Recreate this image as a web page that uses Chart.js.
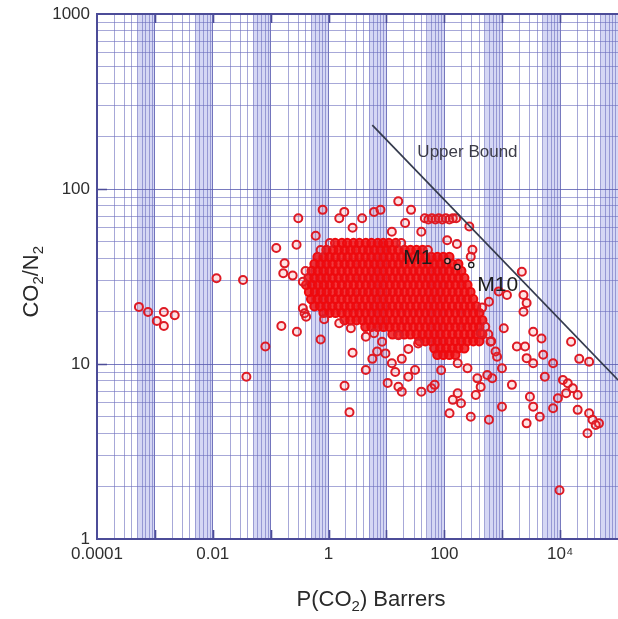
<!DOCTYPE html>
<html>
<head>
<meta charset="utf-8">
<script src="https://cdn.jsdelivr.net/npm/chart.js@4/dist/chart.umd.min.js"></script>
<style>
  html, body { margin: 0; padding: 0; background: #fff; }
  canvas { display: block; }
</style>
</head>
<body>
<canvas id="c" width="618" height="619"></canvas>
<script>
// ---------------- data ----------------
// labelled ticks
const xLabelTicks = [1e-4, 1e-2, 1, 100, 1e4];
const xLabelText  = ['0.0001', '0.01', '1', '100', '10\u2074'];
const yLabelTicks = [1, 10, 100, 1000];
const yLabelText  = ['1', '10', '100', '1000'];

// upper bound line (end points)
const upperBoundPerm = [5.7, 1e5];
const upperBoundSel  = [232, 8.1];

// M1 ... M10 membranes
const mPerm = [113, 168, 292];
const mSel  = [38.8, 35.8, 36.8];

// scattered literature membranes [P(CO2), CO2/N2]
const scatteredPts = [
  [0.00053, 21.2], [0.00076, 19.8], [0.00108, 17.6], [0.00143, 19.8], [0.00143, 16.5], [0.0022, 19.0],
  [0.0116, 30.9], [0.0333, 30.2], [0.0381, 8.46], [0.081, 12.6], [0.153, 16.5], [0.284, 15.3],
  [0.125, 46], [0.174, 37.6], [0.165, 33], [0.24, 32], [0.36, 29.5], [0.36, 20.8], [0.385, 19.5],
  [0.41, 18.6], [0.73, 13.8], [0.84, 18],
  [0.3, 68], [0.6, 54], [0.28, 48], [0.79, 76], [1.53, 68], [1.87, 74], [2.6, 60], [3.8, 68],
  [6.1, 74], [7.9, 76], [12.4, 57], [16, 85], [21, 64], [26.6, 76], [40, 57],
  [46, 68], [53, 67], [61, 68], [70, 67], [80, 68], [92, 67], [106, 68], [122, 67], [140, 68], [160, 68],
  [112, 51], [165, 48.5], [270, 61], [306, 45], [286, 41],
  [2180, 33.7], [2330, 24.8], [2640, 22.3], [2330, 19.9], [1207, 24.8], [870, 26], [590, 22.7], [450, 21],
  [1.53, 17.1], [2.43, 16], [4.4, 14.3], [6.1, 15], [8.4, 13.4], [6.9, 11.8], [5.7, 10.7], [4.4, 9.24],
  [9.6, 11.5], [12.4, 10.1], [10.5, 7.8], [16.1, 7.42], [18.4, 6.95], [40, 6.95], [23.9, 8.46],
  [31.2, 9.24], [18.4, 10.7], [23.9, 12.2], [35.3, 13.1], [16.1, 14.6], [60, 7.26], [14.2, 9.0],
  [1.89, 7.5], [2.3, 5.3], [2.6, 11.6],
  [3430, 15.3], [4770, 14], [15470, 13.4], [1790, 12.6], [2480, 12.6], [2640, 10.8], [3430, 10.1],
  [5100, 11.3], [7560, 10.1], [21400, 10.7], [31700, 10.3], [5440, 8.46], [11190, 8.1], [13570, 7.76],
  [16560, 7.26], [12690, 6.8], [20100, 6.65], [9170, 6.37], [3010, 6.5], [7560, 5.58], [4460, 5.0],
  [3430, 5.7], [2640, 4.58], [20100, 5.47], [31700, 5.23], [36300, 4.8], [46900, 4.58], [1470, 7.6],
  [990, 5.7], [590, 4.8], [286, 5.0], [123, 5.23], [424, 7.4], [672, 8.3], [990, 9.45], [372, 8.28],
  [251, 9.45], [170, 10.1], [88, 9.2], [68, 7.6], [170, 6.8], [140, 6.24], [194, 5.96], [349, 6.65],
  [551, 8.65], [815, 11], [1064, 16], [628, 13.4], [424, 15], [767, 11.8],
  [29700, 4.02], [41150, 4.48], [9770, 1.9],
  [0.73, 44.8], [1.05, 49.1], [18, 49.1], [52, 44.8], [0.40, 34.0], [574, 14.8], [509, 16.3], [646, 13.5]
];

// the crowded centre of the cloud, one selectivity per row
const coreSel = [49.1, 44.8, 40.9, 37.3, 34.0, 31.0, 28.3, 25.8, 23.5, 21.4, 19.6, 17.8, 16.3, 14.8, 13.5, 12.3, 11.3];
const corePermRows = [
  [1.3, 1.7, 2.1, 2.7, 3.4, 4.4, 5.5, 7.1, 8.8, 11, 14.5],
  [0.92, 1.2, 1.5, 1.9, 2.4, 3.0, 3.9, 4.9, 6.2, 7.9, 10, 12.5, 16, 20.5, 26, 33, 42],
  [0.646, 0.82, 1.04, 1.32, 1.68, 2.13, 2.7, 3.42, 4.34, 5.51, 7.0, 8.88, 11.3, 14.3, 18.1, 23.0, 29.2, 37.1, 47.0, 59.7, 75.7, 96.1, 122],
  [0.573, 0.728, 0.923, 1.17, 1.49, 1.89, 2.39, 3.04, 3.86, 4.89, 6.21, 7.88, 10.0, 12.7, 16.1, 20.4, 25.9, 32.9, 41.8, 53.0, 67.2, 85.3, 108, 137, 174],
  [0.51, 0.65, 0.82, 1.04, 1.32, 1.68, 2.13, 2.7, 3.42, 4.34, 5.51, 7.0, 8.88, 11.3, 14.3, 18.1, 23.0, 29.2, 37.1, 47.0, 59.7, 75.7, 96.1, 122, 155, 196],
  [0.45, 0.57, 0.73, 0.92, 1.17, 1.49, 1.89, 2.39, 3.04, 3.86, 4.89, 6.21, 7.88, 10.0, 12.7, 16.1, 20.4, 25.9, 32.9, 41.8, 53.0, 67.2, 85.3, 108, 137, 174, 221],
  [0.41, 0.52, 0.66, 0.83, 1.05, 1.33, 1.7, 2.15, 2.72, 3.45, 4.4, 5.55, 7.05, 8.9, 11.4, 14.4, 18.2, 23.2, 29.4, 37.4, 47.5, 60, 76, 97, 123, 156, 198, 250],
  [0.46, 0.58, 0.74, 0.93, 1.18, 1.5, 1.9, 2.4, 3.05, 3.9, 4.9, 6.25, 7.9, 10.1, 12.8, 16.2, 20.5, 26, 33, 42, 53.5, 67.5, 86, 109, 138, 175, 222, 282],
  [0.5, 0.64, 0.81, 1.03, 1.31, 1.67, 2.12, 2.68, 3.4, 4.3, 5.48, 6.95, 8.85, 11.2, 14.2, 18, 22.9, 29, 37, 46.8, 59.4, 75.3, 95.6, 121, 154, 195, 248, 314],
  [0.57, 0.72, 0.92, 1.16, 1.48, 1.88, 2.38, 3.02, 3.84, 4.87, 6.18, 7.85, 9.95, 12.6, 16, 20.3, 25.8, 32.8, 41.6, 52.8, 67, 85, 107, 136, 173, 220, 280, 354],
  [0.82, 1.04, 1.32, 1.68, 2.13, 2.7, 3.42, 4.34, 5.51, 7.0, 8.88, 11.3, 14.3, 18.1, 23.0, 29.2, 37.1, 47.0, 59.7, 75.7, 96.1, 122, 155, 196, 249, 316, 401],
  [1.89, 2.39, 3.04, 3.86, 4.89, 6.21, 7.88, 10.0, 12.7, 16.1, 20.4, 25.9, 32.9, 41.8, 53.0, 67.2, 85.3, 108, 137, 174, 221, 281, 356, 452],
  [4.34, 5.51, 7.0, 8.88, 11.3, 14.3, 18.1, 23.0, 29.2, 37.1, 47.0, 59.7, 75.7, 96.1, 122, 155, 196, 249, 316, 401],
  [12.7, 16.1, 20.4, 25.9, 32.9, 41.8, 53.0, 67.2, 85.3, 108, 137, 174, 221, 281, 356, 452],
  [37.1, 47.0, 59.7, 75.7, 96.1, 122, 155, 196, 249, 316, 401],
  [67.2, 85.3, 108, 137, 174, 221],
  [75.7, 96.1, 122, 155]
];

// ---------------- build datasets ----------------
const sparse = scatteredPts.map(([x, y]) => ({ x, y }));
const core = [];
corePermRows.forEach((row, i) => row.forEach(x => core.push({ x, y: coreSel[i] })));

const upperBound = upperBoundPerm.map((x, i) => ({ x, y: upperBoundSel[i] }));
const mPoints = mPerm.map((x, i) => ({ x, y: mSel[i] }));

// log grid: a line at every 1..9 x 10^k
function logGridTicks(min, max) {
  const ticks = [];
  const e0 = Math.round(Math.log10(min)), e1 = Math.round(Math.log10(max));
  for (let e = e0; e < e1; e++) {
    for (let m = 1; m < 10; m++) ticks.push({ value: m * Math.pow(10, e), major: m === 1 });
  }
  ticks.push({ value: max, major: true });
  return ticks;
}
function labelFor(value, ticks, texts) {
  for (let i = 0; i < ticks.length; i++) {
    if (Math.abs(Math.log10(value) - Math.log10(ticks[i])) < 1e-6) return texts[i];
  }
  return '';
}

const GRID_MINOR = 'rgba(108,110,190,0.6)';
const GRID_MAJOR = 'rgba(88,90,175,0.8)';
const FRAME = '#4c4c98';
const TICK_FONT = { family: "'Liberation Sans', Arial, sans-serif", size: 17 };

// ---------------- decorations ----------------
const decor = {
  id: 'decor',
  beforeDraw(chart) {
    const { ctx, chartArea: a, scales: { x } } = chart;
    ctx.save();
    ctx.fillStyle = 'rgba(172,176,234,0.5)';
    for (let e = -4; e < 5; e++) {
      const p0 = x.getPixelForValue(5 * Math.pow(10, e));
      const p1 = x.getPixelForValue(Math.pow(10, e + 1));
      ctx.fillRect(p0, a.top, p1 - p0, a.bottom - a.top);
    }
    ctx.restore();
  },
  afterDraw(chart) {
    const { ctx, chartArea: a, scales: { x, y } } = chart;
    ctx.save();
    // frame top edge
    ctx.strokeStyle = FRAME;
    ctx.lineWidth = 2;
    ctx.beginPath();
    ctx.moveTo(a.left, a.top); ctx.lineTo(a.right, a.top);
    ctx.stroke();
    // inward major tick marks
    ctx.lineWidth = 1.6;
    ctx.beginPath();
    for (let e = -3; e < 5; e++) {
      const px = Math.round(x.getPixelForValue(Math.pow(10, e))) + 0.5;
      ctx.moveTo(px, a.bottom); ctx.lineTo(px, a.bottom - 9);
      ctx.moveTo(px, a.top); ctx.lineTo(px, a.top + 9);
    }
    for (let e = 1; e < 3; e++) {
      const py = Math.round(y.getPixelForValue(Math.pow(10, e))) + 0.5;
      ctx.moveTo(a.left, py); ctx.lineTo(a.left + 10, py);
    }
    ctx.stroke();

    // axis titles with subscripts
    const big = "22px 'Liberation Sans', Arial, sans-serif";
    const sub = "15px 'Liberation Sans', Arial, sans-serif";
    function richWidth(parts) {
      let w = 0;
      parts.forEach(([t, s]) => { ctx.font = s ? sub : big; w += ctx.measureText(t).width; });
      return w;
    }
    function richDraw(parts, x0, base) {
      let cx = x0;
      parts.forEach(([t, s]) => {
        ctx.font = s ? sub : big;
        ctx.fillText(t, cx, base + (s ? 5 : 0));
        cx += ctx.measureText(t).width;
      });
    }
    ctx.fillStyle = '#2a2a2a';
    ctx.textBaseline = 'alphabetic';
    ctx.textAlign = 'left';
    const xt = [['P(CO', 0], ['2', 1], [') Barrers', 0]];
    const xc = a.left + (a.right - a.left) * 0.526;
    richDraw(xt, xc - richWidth(xt) / 2, 606);

    const yt = [['CO', 0], ['2', 1], ['/N', 0], ['2', 1]];
    ctx.save();
    ctx.translate(38, a.top + (a.bottom - a.top) * 0.51);
    ctx.rotate(-Math.PI / 2);
    richDraw(yt, -richWidth(yt) / 2, 0);
    ctx.restore();

    // annotations placed in data coordinates
    const notes = [
      { text: 'Upper Bound', px: 34.2, sel: 163, font: "17px 'Liberation Sans', Arial, sans-serif", color: '#3c3c48' },
      { text: 'M1',  px: 19.6, sel: 40.3, font: "21px 'Liberation Sans', Arial, sans-serif", color: '#1c1c1c' },
      { text: 'M10', px: 371,  sel: 28.3, font: "21px 'Liberation Sans', Arial, sans-serif", color: '#1c1c1c' }
    ];
    ctx.textBaseline = 'middle';
    notes.forEach(n => {
      ctx.font = n.font;
      ctx.fillStyle = n.color;
      ctx.fillText(n.text, x.getPixelForValue(n.px), y.getPixelForValue(n.sel));
    });
    ctx.restore();
  }
};

// ---------------- chart ----------------
new Chart(document.getElementById('c'), {
  type: 'scatter',
  data: {
    datasets: [
      {
        label: 'M1-M10',
        data: mPoints,
        pointRadius: 2.6,
        pointBorderWidth: 1.3,
        pointBorderColor: '#141414',
        pointBackgroundColor: 'rgba(255,255,255,0.6)'
      },
      {
        label: 'Upper Bound',
        data: upperBound,
        showLine: true,
        borderColor: '#343a4c',
        borderWidth: 1.7,
        pointRadius: 0
      },
      {
        label: 'Membranes (scattered)',
        data: sparse,
        pointRadius: 4,
        pointBorderWidth: 2,
        pointBorderColor: 'rgb(222,26,36)',
        pointBackgroundColor: 'rgba(255,90,90,0.16)'
      },
      {
        label: 'Membranes (crowded)',
        data: core,
        pointRadius: 4.2,
        pointBorderWidth: 2,
        pointBorderColor: 'rgb(238,10,14)',
        pointBackgroundColor: 'rgba(238,14,18,0.82)'
      }
    ]
  },
  options: {
    responsive: false,
    animation: false,
    devicePixelRatio: 1,
    events: [],
    layout: { autoPadding: false, padding: { top: 14, left: 0, right: 0, bottom: 0 } },
    plugins: { legend: { display: false }, tooltip: { enabled: false } },
    scales: {
      x: {
        type: 'logarithmic',
        min: 1e-4,
        max: 1e5,
        afterBuildTicks: s => { s.ticks = logGridTicks(1e-4, 1e5); },
        afterFit: s => { s.height = 80; s.paddingLeft = 0; s.paddingRight = 0; },
        grid: {
          drawTicks: false,
          color: c => (c.tick && c.tick.major ? GRID_MAJOR : GRID_MINOR),
          lineWidth: 1
        },
        border: { display: true, color: FRAME, width: 2 },
        ticks: {
          autoSkip: false,
          maxRotation: 0,
          padding: 5,
          font: TICK_FONT,
          color: '#2e2e2e',
          callback: v => labelFor(v, xLabelTicks, xLabelText)
        }
      },
      y: {
        type: 'logarithmic',
        min: 1,
        max: 1000,
        afterBuildTicks: s => { s.ticks = logGridTicks(1, 1000); },
        afterFit: s => { s.width = 97; s.paddingTop = 0; s.paddingBottom = 0; },
        grid: {
          drawTicks: false,
          color: c => (c.tick && c.tick.major ? GRID_MAJOR : GRID_MINOR),
          lineWidth: 1
        },
        border: { display: true, color: FRAME, width: 2 },
        ticks: {
          autoSkip: false,
          padding: 7,
          font: TICK_FONT,
          color: '#2e2e2e',
          callback: v => labelFor(v, yLabelTicks, yLabelText)
        }
      }
    }
  },
  plugins: [decor]
});
</script>
</body>
</html>
